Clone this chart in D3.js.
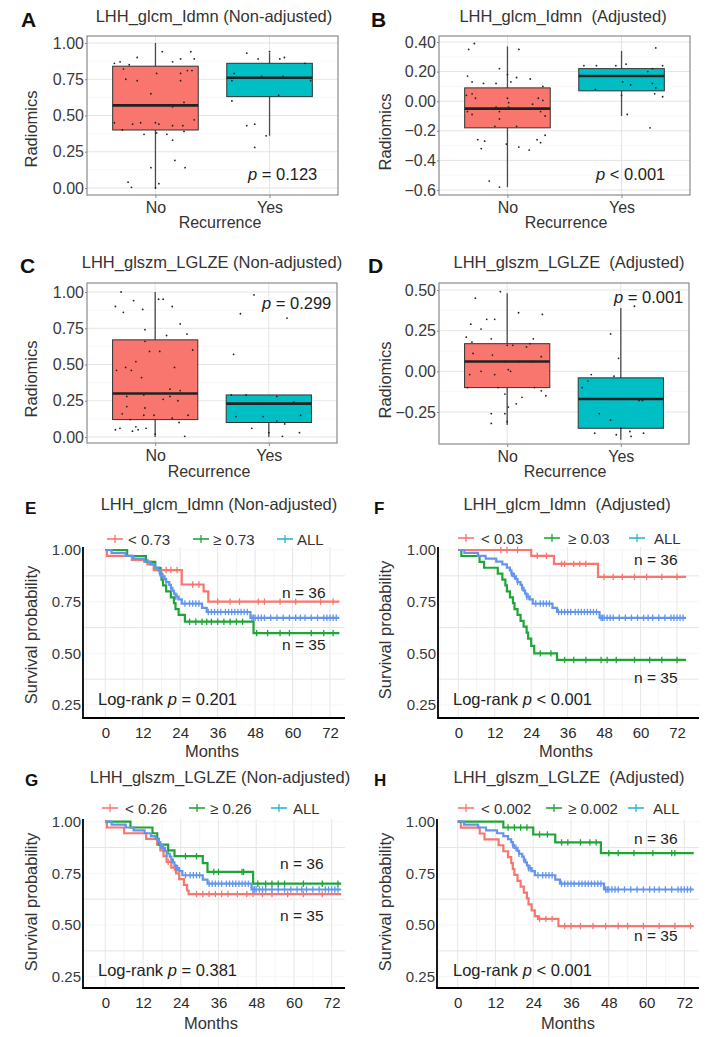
<!DOCTYPE html>
<html>
<head>
<meta charset="utf-8">
<script src="https://cdn.jsdelivr.net/npm/d3@7"></script>
<style>
  body { margin: 0; background: #fff; }
  svg { display: block; }
  text { font-family: "Liberation Sans", Arial, sans-serif; }
</style>
</head>
<body>
<script>
// ---------- box plot data ----------
const recurrence = ["No", "Yes"];
const boxFills = ["#F8766D", "#00BFC4"];

// [lower whisker, Q1, median, Q3, upper whisker] for No, Yes
const idmnRawBoxes = [[0.00, 0.40, 0.57, 0.84, 1.00], [0.36, 0.63, 0.76, 0.86, 0.93]];
const idmnAdjBoxes = [[-0.58, -0.18, -0.05, 0.09, 0.37], [-0.10, 0.07, 0.17, 0.22, 0.34]];
const lglzeRawBoxes = [[0.00, 0.12, 0.30, 0.67, 1.00], [0.00, 0.10, 0.23, 0.29, 0.29]];
const lglzeAdjBoxes = [[-0.33, -0.10, 0.06, 0.17, 0.48], [-0.42, -0.35, -0.17, -0.04, 0.39]];

// jittered points: [jitter, value]
const idmnRawNo = [[-0.16,0.90],[0.06,0.94],[0.31,0.94],[0.22,0.89],[0.15,0.87],[0.34,0.89],[-0.31,0.87],[-0.36,0.86],[-0.23,0.85],[-0.28,0.82],[0.28,0.81],[0.32,0.81],[0.22,0.79],[0.01,0.79],[-0.26,0.75],[-0.16,0.74],[0.22,0.74],[-0.04,0.65],[-0.19,0.57],[0.15,0.56],[0.25,0.59],[-0.36,0.45],[-0.2,0.44],[-0.13,0.45],[0.0,0.45],[0.03,0.44],[0.15,0.43],[0.24,0.43],[0.34,0.47],[-0.29,0.40],[-0.1,0.37],[0.01,0.38],[0.1,0.37],[0.25,0.39],[0.15,0.33],[0.17,0.19],[-0.04,0.14],[0.26,0.14],[-0.24,0.04],[-0.21,0.005],[0.03,0.03],[0.0,0.0]];
const idmnRawYes = [[-0.2,0.93],[0.0,0.94],[-0.1,0.89],[0.09,0.89],[0.13,0.90],[0.31,0.86],[-0.31,0.79],[-0.33,0.74],[-0.07,0.77],[0.12,0.77],[0.36,0.74],[0.08,0.64],[-0.33,0.60],[-0.2,0.43],[-0.13,0.44],[-0.03,0.36],[-0.13,0.28]];
const idmnAdjNo = [[-0.29,0.39],[-0.34,0.35],[0.1,0.35],[-0.07,0.22],[-0.35,0.17],[0.0,0.18],[0.08,0.16],[0.2,0.15],[-0.31,0.13],[-0.21,0.12],[-0.1,0.12],[0.03,0.13],[0.31,0.1],[-0.36,0.04],[-0.31,0.05],[-0.28,0.02],[0.0,0.02],[0.01,-0.01],[0.27,0.02],[0.31,0.005],[0.22,-0.02],[-0.35,-0.07],[-0.31,-0.09],[-0.18,-0.05],[-0.1,-0.04],[-0.07,-0.07],[0.01,-0.04],[0.29,-0.07],[0.33,-0.1],[-0.07,-0.12],[-0.11,-0.17],[0.08,-0.17],[0.33,-0.23],[-0.26,-0.26],[-0.2,-0.27],[-0.23,-0.32],[-0.01,-0.29],[0.1,-0.31],[0.19,-0.33],[0.26,-0.26],[0.29,-0.28],[-0.16,-0.54],[-0.07,-0.58]];
const idmnAdjYes = [[0.3,0.36],[-0.33,0.24],[-0.22,0.24],[-0.05,0.24],[0.04,0.25],[0.23,0.2],[0.27,0.22],[0.36,0.24],[0.01,0.13],[0.08,0.11],[0.27,0.12],[-0.23,0.08],[0.3,0.09],[0.29,0.05],[0.36,0.03],[0.0,0.04],[0.05,-0.09],[0.25,-0.18]];
const lglzeRawNo = [[-0.3,1.0],[-0.35,0.9],[-0.28,0.86],[-0.19,0.94],[-0.11,0.88],[0.03,0.95],[0.07,0.95],[0.15,0.9],[0.22,0.78],[-0.09,0.74],[0.1,0.7],[0.28,0.71],[-0.09,0.66],[-0.05,0.59],[0.04,0.59],[0.33,0.6],[-0.34,0.46],[-0.26,0.48],[-0.21,0.46],[-0.17,0.52],[0.17,0.48],[-0.12,0.41],[0.13,0.33],[0.22,0.32],[-0.1,0.29],[0.07,0.26],[0.2,0.25],[0.13,0.28],[-0.25,0.28],[-0.25,0.21],[-0.09,0.2],[-0.29,0.16],[-0.1,0.15],[-0.01,0.15],[0.15,0.13],[0.29,0.15],[-0.22,0.12],[-0.17,0.07],[-0.08,0.06],[0.21,0.1],[-0.35,0.05],[-0.31,0.06],[-0.2,0.04],[-0.15,0.05],[0.0,0.02],[0.26,0.005]];
const lglzeRawYes = [[-0.13,0.98],[-0.25,0.85],[0.16,0.82],[-0.31,0.57],[-0.2,0.29],[-0.33,0.29],[0.07,0.28],[-0.1,0.23],[0.22,0.24],[0.28,0.15],[-0.29,0.14],[-0.05,0.14],[0.07,0.11],[0.14,0.09],[-0.15,0.06],[0.0,0.03],[0.12,0.005],[0.27,0.03]];
const lglzeAdjNo = [[-0.06,0.49],[-0.28,0.45],[-0.18,0.32],[-0.11,0.32],[0.1,0.36],[0.31,0.35],[-0.32,0.29],[-0.23,0.26],[-0.36,0.21],[-0.31,0.18],[-0.14,0.2],[0.23,0.2],[0.0,0.16],[0.05,0.16],[0.17,0.15],[0.2,0.17],[-0.3,0.11],[-0.13,0.1],[0.3,0.09],[-0.02,0.06],[0.11,0.06],[0.21,0.06],[0.01,0.01],[0.03,0.0],[-0.23,0.0],[-0.33,-0.02],[-0.11,-0.02],[-0.35,-0.1],[-0.08,-0.1],[0.24,-0.1],[0.3,-0.12],[0.34,-0.15],[0.13,-0.16],[0.08,-0.2],[0.01,-0.22],[-0.02,-0.14],[-0.14,-0.26],[-0.02,-0.26],[-0.14,-0.32],[0.0,-0.31]];
const lglzeAdjYes = [[0.12,0.40],[-0.09,0.23],[-0.02,0.08],[-0.26,-0.02],[-0.06,-0.03],[-0.34,-0.1],[-0.29,-0.06],[0.16,-0.18],[0.19,-0.18],[0.03,-0.17],[-0.19,-0.26],[-0.09,-0.3],[-0.23,-0.38],[-0.04,-0.39],[0.08,-0.37],[0.09,-0.4],[0.2,-0.38],[0.0,-0.35]];

const unitTicks = [0, 0.25, 0.5, 0.75, 1];
const unitLabels = ["0.00", "0.25", "0.50", "0.75", "1.00"];
const idmnAdjTicks = [-0.6, -0.4, -0.2, 0, 0.2, 0.4];
const idmnAdjLabels = ["\u22120.6", "\u22120.4", "\u22120.2", "0.00", "0.20", "0.40"];
const lglzeAdjTicks = [-0.25, 0, 0.25, 0.5];
const lglzeAdjLabels = ["\u22120.25", "0.00", "0.25", "0.50"];

// ---------- survival data: [month, survival] steps, censor months ----------
const monthTicks = [0, 12, 24, 36, 48, 60, 72];
const survTicks = [0.25, 0.5, 0.75, 1];
const followUp = 75;

const allSteps = [[2,0.986],[6.5,0.972],[9,0.958],[12.5,0.944],[14.5,0.930],[16,0.915],[17,0.901],[17.5,0.887],[18,0.873],[19,0.859],[19.5,0.845],[20.5,0.831],[21,0.817],[21.5,0.803],[22,0.789],[22.5,0.775],[23.5,0.761],[24.5,0.741],[31,0.720],[32.5,0.700],[46.5,0.672]];
const allCensor = [17.5,18.5,19.5,21,22.5,23,25.5,27,28,29,30,33,34,35,36,37,38.5,39.5,40.5,41.5,42.5,43.5,44.5,45.5,47,47.5,48,49,50,51,53,55,57,59,61,62.5,64,66,68,70,71,72,73,74];

const idmnRawLow = [[0.5,0.972],[8.5,0.952],[13.5,0.93],[15.5,0.903],[24.5,0.833],[31.5,0.80],[33,0.75]];
const idmnRawLowCensor = [18,19.5,21,23,28,30,36,40,43,49,51,56,61,69,73];
const idmnRawHigh = [[7,0.971],[13,0.943],[16,0.914],[17.5,0.886],[18,0.857],[18.5,0.829],[19.5,0.80],[21,0.771],[22,0.743],[22.5,0.714],[23.5,0.686],[25.5,0.653],[47.5,0.598]];
const idmnRawHighCensor = [27,29,31,32.5,34,36,38,40,42,44,48.5,52,56,59,66,70,73];

const idmnAdjLow = [[24,0.972],[31.5,0.933],[46,0.87]];
const idmnAdjLowCensor = [14,16,19.5,26,29,34,35,38,40,42,48,51,54,58,62,67,72];
const idmnAdjHigh = [[1,0.971],[7,0.943],[8.5,0.914],[13,0.886],[14.5,0.857],[15.5,0.829],[16,0.80],[17,0.771],[18,0.743],[18.5,0.714],[19.5,0.686],[20.5,0.657],[21.5,0.629],[22.5,0.60],[23,0.571],[24,0.536],[25,0.50],[32.5,0.468]];
const idmnAdjHighCensor = [27,30.5,35,38,42,47,49,52,58,63,67,72];

const lglzeRawLow = [[0.5,0.972],[6,0.944],[13,0.917],[16.5,0.889],[17.5,0.861],[18.5,0.833],[19.5,0.806],[21,0.778],[22.5,0.75],[23.5,0.722],[25,0.694],[26,0.667],[26.5,0.65]];
const lglzeRawLowCensor = [20,22,29,31,33,35,37,39,42,45,47,50,53,58,63,69];
const lglzeRawHigh = [[8,0.972],[15,0.944],[16.5,0.917],[17,0.889],[20,0.861],[22,0.833],[31,0.80],[32.5,0.757],[47,0.70]];
const lglzeRawHighCensor = [20,25.5,29,34.5,36,43.5,44,48.5,51,53,55,57,63,69,74];

const lglzeAdjLow = [[1,0.971],[7,0.943],[8.5,0.914],[13,0.886],[14.5,0.857],[16,0.829],[17,0.80],[17.5,0.771],[18,0.743],[19,0.714],[20,0.686],[21,0.657],[22,0.629],[22.5,0.60],[23.5,0.571],[24.5,0.543],[25.5,0.53],[32,0.495]];
const lglzeAdjLowCensor = [26,28,30,34,36,39,43,47,51,54,59,64,69,74];
const lglzeAdjHigh = [[14.5,0.972],[24,0.938],[31,0.90],[45.5,0.848]];
const lglzeAdjHighCensor = [16,18,20,22,26,28.5,33,35,39,42,44,48,51,56,62,68,69];

// ---------- drawing ----------
const svg = d3.select("body").append("svg").attr("width", 722).attr("height", 1037);

function italicP(sel, before, after) {
  sel.append("tspan").text(before);
  sel.append("tspan").attr("font-style", "italic").text("p");
  sel.append("tspan").text(after);
}

function boxPanel(p) {
  const g = svg.append("g");
  const x = d3.scaleLinear().domain([0.4, 2.6]).range([p.left, p.right]);
  const y = d3.scaleLinear().domain(p.domain).range(p.range);
  const step = p.ticks[1] - p.ticks[0];
  const minor = p.ticks.map(t => t + step / 2).filter(t => y(t) > p.top && y(t) < p.bottom);
  const majorGrid = p.ticks.filter(t => y(t) > p.top && y(t) < p.bottom);

  g.selectAll(".minor").data(minor).join("line")
    .attr("x1", p.left).attr("x2", p.right).attr("y1", d => y(d)).attr("y2", d => y(d))
    .attr("stroke", "#f2f2f2").attr("stroke-width", 0.6);
  g.selectAll(".major").data(majorGrid).join("line")
    .attr("x1", p.left).attr("x2", p.right).attr("y1", d => y(d)).attr("y2", d => y(d))
    .attr("stroke", "#e4e4e4").attr("stroke-width", 1);
  g.selectAll(".vgrid").data([1, 2]).join("line")
    .attr("x1", d => x(d)).attr("x2", d => x(d)).attr("y1", p.top).attr("y2", p.bottom)
    .attr("stroke", "#e4e4e4").attr("stroke-width", 1);

  // whiskers
  p.boxes.forEach((b, i) => {
    g.append("line").attr("x1", x(i + 1)).attr("x2", x(i + 1))
      .attr("y1", y(b[0])).attr("y2", y(b[4]))
      .attr("stroke", "#4a4a4a").attr("stroke-width", 1.3);
  });
  g.selectAll(".box").data(p.boxes).join("rect")
    .attr("x", (d, i) => x(i + 1 - 0.375))
    .attr("width", x(1.375) - x(0.625))
    .attr("y", d => y(d[3]))
    .attr("height", d => y(d[1]) - y(d[3]))
    .attr("fill", (d, i) => boxFills[i])
    .attr("stroke", "#333").attr("stroke-width", 1);
  g.selectAll(".med").data(p.boxes).join("line")
    .attr("x1", (d, i) => x(i + 1 - 0.375)).attr("x2", (d, i) => x(i + 1 + 0.375))
    .attr("y1", d => y(d[2])).attr("y2", d => y(d[2]))
    .attr("stroke", "#222").attr("stroke-width", 2.6);

  p.points.forEach((pts, i) => {
    g.selectAll(".pt" + i).data(pts).join("circle")
      .attr("cx", d => x(i + 1 + d[0])).attr("cy", d => y(d[1]))
      .attr("r", 0.9).attr("fill", "#222");
  });

  g.append("rect").attr("x", p.left).attr("y", p.top)
    .attr("width", p.right - p.left).attr("height", p.bottom - p.top)
    .attr("fill", "none").attr("stroke", "#8a8a8a").attr("stroke-width", 1.2);

  const ya = g.append("g").attr("transform", `translate(${p.left},0)`)
    .call(d3.axisLeft(y).tickValues(p.ticks).tickFormat((d, i) => p.labels[i]).tickSize(2).tickPadding(1));
  ya.select(".domain").remove();
  ya.selectAll("line").attr("stroke", "#8a8a8a");
  ya.selectAll("text").attr("font-size", 16).attr("fill", "#3a3a3a")
    .attr("font-family", "Liberation Sans, Arial, sans-serif");

  const xa = g.append("g").attr("transform", `translate(0,${p.bottom})`)
    .call(d3.axisBottom(x).tickValues([1, 2]).tickFormat(d => recurrence[d - 1]).tickSize(3).tickPadding(4));
  xa.select(".domain").remove();
  xa.selectAll("line").attr("stroke", "#8a8a8a");
  xa.selectAll("text").attr("font-size", 16).attr("fill", "#333")
    .attr("font-family", "Liberation Sans, Arial, sans-serif");

  g.append("text").attr("x", p.title[0]).attr("y", p.title[1]).attr("text-anchor", "middle")
    .attr("font-size", 16.5).attr("fill", "#333").style("white-space", "pre").text(p.titleText);
  g.append("text").attr("x", p.letter[0]).attr("y", p.letter[1])
    .attr("font-size", 21).attr("font-weight", "bold").attr("fill", "#111").text(p.letterText);
  g.append("text").attr("transform", `translate(${p.ylab[0]},${p.ylab[1]}) rotate(-90)`)
    .attr("text-anchor", "middle").attr("font-size", 16.5).attr("fill", "#333").text("Radiomics");
  g.append("text").attr("x", p.xlab[0]).attr("y", p.xlab[1]).attr("text-anchor", "middle")
    .attr("font-size", 16).attr("fill", "#333").text("Recurrence");
  italicP(g.append("text").attr("x", p.pv[0]).attr("y", p.pv[1]).attr("font-size", 16.5).attr("fill", "#222")
    .style("white-space", "pre"), "", p.pText);
}

const kmRed = "#F8766D", kmGreen = "#1FA535", kmBlue = "#6495ED";
const legendColors = ["#F8766D", "#1FA535", "#2CB5D6"];

function survAt(steps, t) {
  let s = 1;
  for (const [tt, v] of steps) if (tt <= t) s = v;
  return s;
}

function kmPanel(p) {
  const g = svg.append("g");
  const x = d3.scaleLinear().domain([0, 72]).range(p.xr);
  const y = d3.scaleLinear().domain([0.25, 1]).range(p.yr);

  const vMinor = d3.range(-6, 78, 6).filter(m => x(m) > p.ax && x(m) < p.aright);
  const hLines = d3.range(0.125, 1.01, 0.125).filter(v => y(v) < p.abottom && y(v) > p.atop - 2);
  g.selectAll(".vg").data(vMinor).join("line")
    .attr("x1", d => x(d)).attr("x2", d => x(d)).attr("y1", p.atop).attr("y2", p.abottom)
    .attr("stroke", d => d % 12 === 0 ? "#e6e6e6" : "#f2f2f2").attr("stroke-width", d => d % 12 === 0 ? 1 : 0.8);
  g.selectAll(".hg").data(hLines).join("line")
    .attr("x1", p.ax).attr("x2", p.aright).attr("y1", d => y(d)).attr("y2", d => y(d))
    .attr("stroke", (d, i) => i % 2 === 1 ? "#e6e6e6" : "#f2f2f2").attr("stroke-width", (d, i) => i % 2 === 1 ? 1 : 0.8);

  const line = d3.line().curve(d3.curveStepAfter).x(d => x(d[0])).y(d => y(d[1]));
  const curves = [
    [p.low, p.lowCensor, kmRed],
    [p.high, p.highCensor, kmGreen],
    [allSteps, allCensor, kmBlue]
  ];
  curves.forEach(([steps, cens, col]) => {
    const pts = [[0, 1], ...steps, [followUp, steps[steps.length - 1][1]]];
    g.append("path").attr("d", line(pts)).attr("fill", "none")
      .attr("stroke", col).attr("stroke-width", 2.2);
    g.selectAll(null).data(cens).join("line")
      .attr("x1", d => x(d)).attr("x2", d => x(d))
      .attr("y1", d => y(survAt(steps, d)) - 3.2).attr("y2", d => y(survAt(steps, d)) + 3.2)
      .attr("stroke", col).attr("stroke-width", 1.3);
  });

  // axes
  g.append("line").attr("x1", p.ax).attr("x2", p.ax).attr("y1", p.atop).attr("y2", p.abottom)
    .attr("stroke", "#000").attr("stroke-width", 1.8);
  g.append("line").attr("x1", p.ax - 0.9).attr("x2", p.aright).attr("y1", p.abottom).attr("y2", p.abottom)
    .attr("stroke", "#000").attr("stroke-width", 1.8);

  const xa = g.append("g").attr("transform", `translate(0,${p.abottom})`)
    .call(d3.axisBottom(x).tickValues(monthTicks).tickSize(0).tickPadding(9.5));
  xa.select(".domain").remove();
  xa.selectAll("text").attr("font-size", 15).attr("fill", "#2a2a2a").attr("font-family", "Lato, sans-serif");

  const ya = g.append("g").attr("transform", `translate(${p.ax},0)`)
    .call(d3.axisLeft(y).tickValues(survTicks).tickFormat(d3.format(".2f")).tickSize(0).tickPadding(2));
  ya.select(".domain").remove();
  ya.selectAll("text").attr("font-size", 15).attr("fill", "#3a3a3a").attr("font-family", "Lato, sans-serif");

  g.append("text").attr("x", p.title[0]).attr("y", p.title[1]).attr("text-anchor", "middle")
    .attr("font-size", 16.5).attr("fill", "#333").style("white-space", "pre").text(p.titleText);
  g.append("text").attr("x", p.letter[0]).attr("y", p.letter[1])
    .attr("font-size", 17).attr("font-weight", "bold").attr("fill", "#111").text(p.letterText);
  g.append("text").attr("transform", `translate(${p.ylab[0]},${p.ylab[1]}) rotate(-90)`)
    .attr("text-anchor", "middle").attr("font-size", 16.5).attr("fill", "#333")
    .attr("font-family", "Lato, sans-serif").text("Survival probability");
  g.append("text").attr("x", p.xlab[0]).attr("y", p.xlab[1]).attr("text-anchor", "middle")
    .attr("font-size", 16.5).attr("fill", "#333").attr("font-family", "Lato, sans-serif").text("Months");

  // legend
  p.legend.forEach((lab, i) => {
    const cx = p.legSym[i];
    g.append("line").attr("x1", cx - 8).attr("x2", cx + 8).attr("y1", p.legY).attr("y2", p.legY)
      .attr("stroke", legendColors[i]).attr("stroke-width", 1.6);
    g.append("line").attr("x1", cx).attr("x2", cx).attr("y1", p.legY - 4).attr("y2", p.legY + 4)
      .attr("stroke", legendColors[i]).attr("stroke-width", 1.3);
    g.append("text").attr("x", p.legText[i]).attr("y", p.legY + 5.5)
      .attr("font-size", 15).attr("fill", "#333").text(lab);
  });

  g.append("text").attr("x", p.n36[0]).attr("y", p.n36[1]).attr("font-size", 15.5).attr("fill", "#222")
    .style("white-space", "pre").text("n = 36");
  g.append("text").attr("x", p.n35[0]).attr("y", p.n35[1]).attr("font-size", 15.5).attr("fill", "#222")
    .style("white-space", "pre").text("n = 35");
  italicP(g.append("text").attr("x", p.lr[0]).attr("y", p.lr[1]).attr("font-size", 16.5).attr("fill", "#222")
    .attr("font-family", "Lato, sans-serif").style("white-space", "pre"), "Log-rank ", p.lrText);
}

boxPanel({ left: 87, right: 338, top: 36, bottom: 195, domain: [0, 1], range: [188, 43],
  ticks: unitTicks, labels: unitLabels, boxes: idmnRawBoxes, points: [idmnRawNo, idmnRawYes],
  title: [214, 22], titleText: "LHH_glcm_Idmn (Non-adjusted)", letter: [21, 27], letterText: "A",
  ylab: [37, 129], xlab: [220, 228], pv: [248, 180], pText: " = 0.123" });
boxPanel({ left: 439, right: 690, top: 36, bottom: 195, domain: [-0.6, 0.4], range: [190, 42],
  ticks: idmnAdjTicks, labels: idmnAdjLabels, boxes: idmnAdjBoxes, points: [idmnAdjNo, idmnAdjYes],
  title: [563, 22], titleText: "LHH_glcm_Idmn  (Adjusted)", letter: [371, 27], letterText: "B",
  ylab: [391, 132], xlab: [566, 228], pv: [596, 180], pText: " < 0.001" });
boxPanel({ left: 87, right: 337, top: 283, bottom: 443, domain: [0, 1], range: [437, 292],
  ticks: unitTicks, labels: unitLabels, boxes: lglzeRawBoxes, points: [lglzeRawNo, lglzeRawYes],
  title: [212, 268], titleText: "LHH_glszm_LGLZE (Non-adjusted)", letter: [20, 273], letterText: "C",
  ylab: [37, 379], xlab: [209, 477], pv: [262, 309], pText: " = 0.299" });
boxPanel({ left: 439, right: 689, top: 283, bottom: 444, domain: [-0.25, 0.5], range: [412, 290],
  ticks: lglzeAdjTicks, labels: lglzeAdjLabels, boxes: lglzeAdjBoxes, points: [lglzeAdjNo, lglzeAdjYes],
  title: [569, 268], titleText: "LHH_glszm_LGLZE  (Adjusted)", letter: [368, 273], letterText: "D",
  ylab: [391, 380], xlab: [565, 477], pv: [614, 303], pText: " = 0.001" });

kmPanel({ ax: 83, aright: 345, atop: 547, abottom: 718, xr: [105.3, 330], yr: [705, 550],
  low: idmnRawLow, lowCensor: idmnRawLowCensor, high: idmnRawHigh, highCensor: idmnRawHighCensor,
  title: [219, 510], titleText: "LHH_glcm_Idmn (Non-adjusted)", letter: [25, 514], letterText: "E",
  ylab: [37, 635], xlab: [212, 757], legY: 539, legSym: [115, 201, 285], legText: [128, 213, 297],
  legend: ["< 0.73", "\u2265 0.73", "ALL"], n36: [282, 598], n35: [282, 650], lr: [98, 705], lrText: " = 0.201" });
kmPanel({ ax: 438, aright: 699, atop: 547, abottom: 718, xr: [458.3, 677], yr: [705, 550],
  low: idmnAdjLow, lowCensor: idmnAdjLowCensor, high: idmnAdjHigh, highCensor: idmnAdjHighCensor,
  title: [567, 510], titleText: "LHH_glcm_Idmn  (Adjusted)", letter: [374, 514], letterText: "F",
  ylab: [391, 630], xlab: [566, 757], legY: 538, legSym: [466, 552, 637], legText: [481, 568, 654],
  legend: ["< 0.03", "\u2265 0.03", "ALL"], n36: [634, 565], n35: [634, 683], lr: [453, 705], lrText: " < 0.001" });
kmPanel({ ax: 83, aright: 345, atop: 819, abottom: 988, xr: [105.3, 331.7], yr: [976.7, 821.7],
  low: lglzeRawLow, lowCensor: lglzeRawLowCensor, high: lglzeRawHigh, highCensor: lglzeRawHighCensor,
  title: [220, 783], titleText: "LHH_glszm_LGLZE (Non-adjusted)", letter: [25, 786], letterText: "G",
  ylab: [37, 902], xlab: [211, 1029], legY: 808, legSym: [110, 197, 279], legText: [125, 210, 293],
  legend: ["< 0.26", "\u2265 0.26", "ALL"], n36: [280, 869], n35: [280, 921], lr: [98, 976], lrText: " = 0.381" });
kmPanel({ ax: 437, aright: 699, atop: 819, abottom: 988, xr: [457.7, 684.3], yr: [976.7, 821.7],
  low: lglzeAdjLow, lowCensor: lglzeAdjLowCensor, high: lglzeAdjHigh, highCensor: lglzeAdjHighCensor,
  title: [569, 783], titleText: "LHH_glszm_LGLZE  (Adjusted)", letter: [374, 786], letterText: "H",
  ylab: [391, 902], xlab: [568, 1029], legY: 808, legSym: [466, 554, 636], legText: [481, 568, 653],
  legend: ["< 0.002", "\u2265 0.002", "ALL"], n36: [634, 844], n35: [634, 941], lr: [453, 976], lrText: " < 0.001" });
</script>
</body>
</html>
